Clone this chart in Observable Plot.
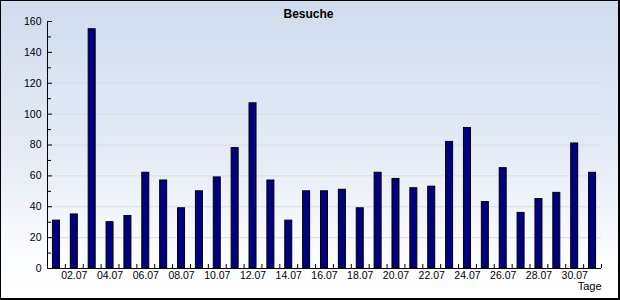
<!DOCTYPE html>
<html>
<head>
<meta charset="utf-8">
<script src="https://cdn.jsdelivr.net/npm/d3@7"></script>
<script src="https://cdn.jsdelivr.net/npm/@observablehq/plot@0.6"></script>
<style>
  html, body { margin: 0; padding: 0; background: #fff; }
  #wrap { position: relative; width: 620px; height: 300px; overflow: hidden;
          background: linear-gradient(to bottom, #cfdcee 0%, #e4ebf6 50%, #fbfcfe 85%, #ffffff 100%); }
  #border { position: absolute; left: 0; top: 0; width: 620px; height: 300px; box-sizing: border-box;
            border-style: solid; border-color: #000; border-width: 1px 2px 2px 1px; pointer-events: none; }
  svg { display: block; }
</style>
</head>
<body>
<div id="wrap"><div id="border"></div></div>
<script>
const days = ["01.07","02.07","03.07","04.07","05.07","06.07","07.07","08.07","09.07","10.07",
              "11.07","12.07","13.07","14.07","15.07","16.07","17.07","18.07","19.07","20.07",
              "21.07","22.07","23.07","24.07","25.07","26.07","27.07","28.07","29.07","30.07","31.07"];
const visits = [31,35,155,30,34,62,57,39,50,59,78,107,57,31,50,50,51,39,62,58,52,53,82,91,43,65,36,45,49,81,62];
const yTicks = [0,20,40,60,80,100,120,140,160];
const yMinor = [10,30,50,70,90,110,130,150];
const xLabels = days.filter((d, i) => i % 2 === 1);
const title = "Besuche";
const xTitle = "Tage";

const data = days.map((d, i) => ({day: d, v: visits[i]}));

const W = 620, H = 300, mL = 47, mR = 19, mT = 21, mB = 32;
const step = (W - mL - mR) / days.length;
const barW = 7;
const inset = (step - barW) / 2;

const chart = Plot.plot({
  width: W, height: H,
  marginLeft: mL, marginRight: mR, marginTop: mT, marginBottom: mB,
  style: {background: "transparent", fontFamily: "'Liberation Sans', Arial, sans-serif", fontSize: "10.5px", color: "#000", overflow: "visible"},
  x: {domain: days, padding: 0, round: false, label: null, axis: null},
  y: {domain: [0, 160], label: null, axis: null},
  marks: [
    Plot.gridY(yTicks.slice(1), {stroke: "#dcdcdc", strokeOpacity: 1}),
    Plot.barY(data, {x: "day", y: "v", fill: "#000080", stroke: "#000", strokeWidth: 1, insetLeft: inset, insetRight: inset}),
    Plot.axisY({ticks: yTicks, tickSize: 0, tickPadding: 6, label: null}),
    Plot.ruleY(yTicks, {stroke: "#000", insetRight: (W - mL - mR) - 5}),
    Plot.ruleY(yMinor, {stroke: "#000", insetRight: (W - mL - mR) - 4}),
    Plot.axisX({ticks: days, tickSize: -4, text: null, dx: step / 2, label: null, stroke: "#000"}),
    Plot.axisX({ticks: xLabels, tickSize: 0, tickPadding: 3, label: null}),
    Plot.ruleY([0], {stroke: "#000"}),
    Plot.frame({anchor: "left", stroke: "#000"}),
    Plot.text([title], {frameAnchor: "top", dx: -16, dy: -12, fontWeight: "bold", fontSize: 12, fill: "#000"}),
    Plot.text([xTitle], {frameAnchor: "bottom-right", dy: 21, fontSize: 11, fill: "#000", textAnchor: "end"})
  ]
});
document.getElementById("wrap").insertBefore(chart, document.getElementById("border"));
</script>
</body>
</html>
